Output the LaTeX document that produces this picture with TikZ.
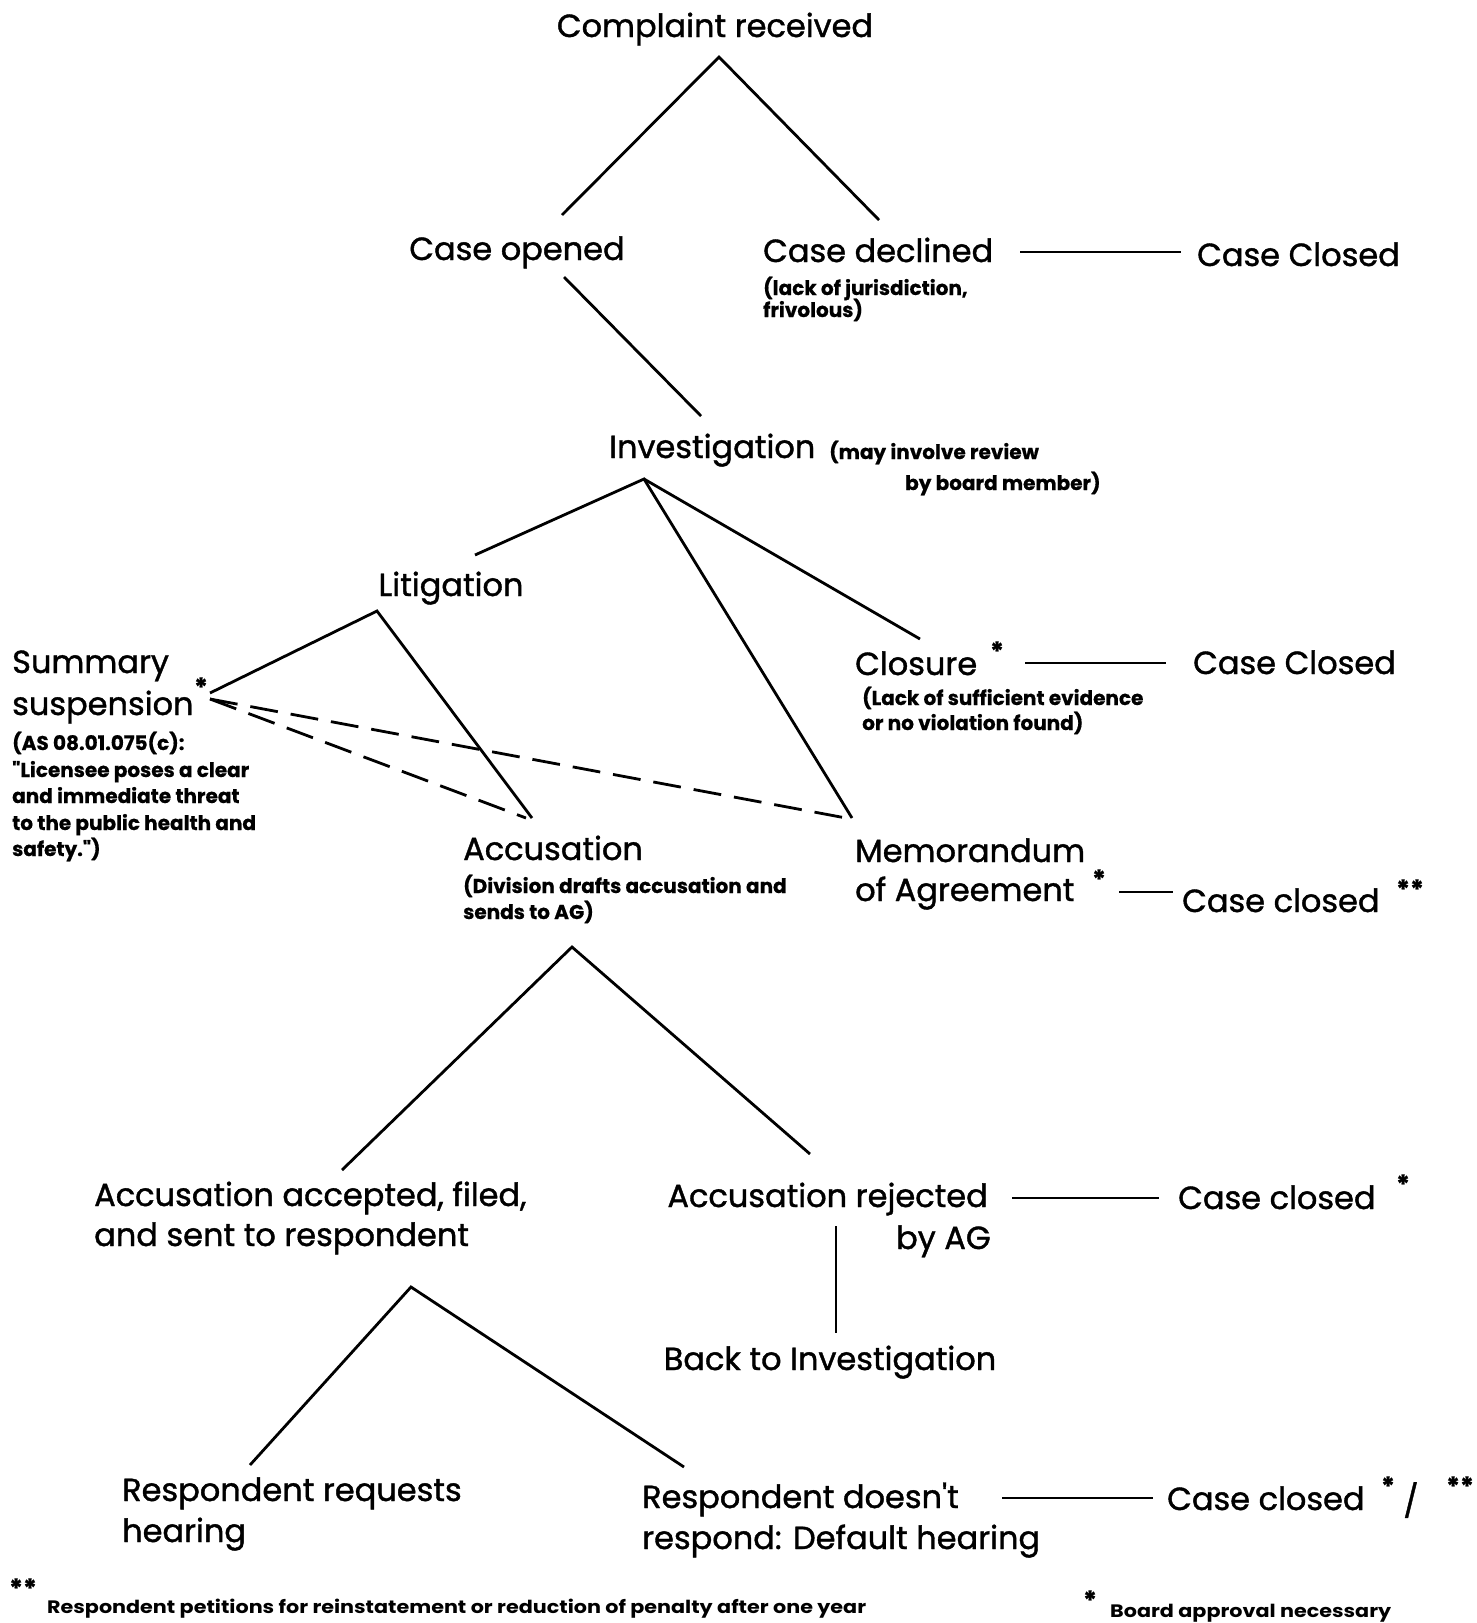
\documentclass[tikz,border=0pt]{standalone}
\usepackage{fontspec}
\setmainfont{Poppins}
\newfontfamily\heavyf{Poppins}[FakeBold=1.2]
\newfontfamily\smallf{Poppins Bold}[FakeBold=0.6]
\newfontfamily\notef{Poppins Bold}[FakeStretch=1.15]
\begin{document}
\begin{tikzpicture}[x=1pt,y=-1pt,
  big/.style={font=\heavyf\fontsize{32}{38}\selectfont, inner sep=0pt, anchor=base west},
  small/.style={font=\smallf\fontsize{20}{24}\selectfont, inner sep=0pt, anchor=base west},
  tiny/.style={font=\notef\fontsize{18}{21}\selectfont, inner sep=0pt, anchor=base west},
  starmark/.style={font=\smallf\fontsize{26}{26}\selectfont, inner sep=0pt},
  conn/.style={line width=2.8pt},
  dconn/.style={line width=2.8pt, dash pattern=on 28pt off 13pt}]
\useasboundingbox (0,0) rectangle (1476,1623);
\fill[white] (0,0) rectangle (1476,1623);

% ---------- texts ----------
\node[big, anchor=base] (cr) at (715,37) {Complaint received};
\node[big, anchor=base] (co) at (517,260) {Case opened};
\node[big] (cd) at (763,262) {Case declined};
\node[small] (cd1) at (763,295) {(lack of jurisdiction,};
\node[small] (cd2) at (763,317) {frivolous)};
\node[big] (cc1) at (1197,266) {Case Closed};

\node[big] (inv) at (609,458) {Investigation};
\node[small] (inv1) at (829,459) {(may involve review};
\node[small] (inv2) at (905,490) {by board member)};

\node[big, anchor=base] (lit) at (451,596) {Litigation};

\node[big] (ss1) at (12,673) {Summary};
\node[big] (ss2) at (12,715) {suspension};
\node[starmark] (ssst) at (201,687) {*};
\node[small] (ssa) at (12,750) {(AS 08.01.075(c):};
\node[small] (ssb) at (12,777) {"Licensee poses a clear};
\node[small] (ssc) at (12,803) {and immediate threat};
\node[small] (ssd) at (12,830) {to the public health and};
\node[small] (sse) at (12,856) {safety.")};

\node[big] (clo) at (855,675) {Closure};
\node[starmark] (clost) at (997,651) {*};
\node[small] (clo1) at (862,705) {(Lack of sufficient evidence};
\node[small] (clo2) at (862,730) {or no violation found)};
\node[big] (cc2) at (1193,674) {Case Closed};

\node[big] (acc) at (463,860) {Accusation};
\node[small] (acc1) at (463,893) {(Division drafts accusation and};
\node[small] (acc2) at (463,919) {sends to AG)};

\node[big] (moa1) at (855,862) {Memorandum};
\node[big] (moa2) at (855,901) {of Agreement};
\node[starmark] (moast) at (1099,879) {*};
\node[big] (cc3) at (1182,912) {Case closed};
\node[starmark] (cc3st) at (1410,889) {**};

\node[big] (aa1) at (94,1206) {Accusation accepted, filed,};
\node[big] (aa2) at (94,1246) {and sent to respondent};

\node[big, anchor=base east] (ar1) at (988,1207) {Accusation rejected};
\node[big, anchor=base east] (ar2) at (991,1249) {by AG};
\node[big] (cc4) at (1178,1209) {Case closed};
\node[starmark] (cc4st) at (1403,1184) {*};

\node[big, anchor=base] (bti) at (830,1370) {Back to Investigation};

\node[big] (rr1) at (122,1501) {Respondent requests};
\node[big] (rr2) at (122,1542) {hearing};

\node[big] (rd1) at (642,1508) {Respondent doesn't};
\node[big] (rd2) at (642,1549) {respond: Default hearing};
\node[big] (cc5) at (1167,1510) {Case closed};
\node[starmark] (cc5a) at (1388,1486) {*};
\node[big, anchor=center] (cc5b) at (1411,1500) {/};
\node[starmark] (cc5c) at (1460,1486) {**};

\node[starmark] (fn1st) at (23,1588) {**};
\node[tiny] (fn1) at (47,1613) {Respondent petitions for reinstatement or reduction of penalty after one year};
\node[starmark] (fn2st) at (1090,1600) {*};
\node[tiny] (fn2) at (1110,1617) {Board approval necessary};

% ---------- connector end points ----------
\coordinate (cr-b) at (719,57);
\coordinate (co-t) at (562,215);
\coordinate (cd-t) at (879,220);
\coordinate (cd-r) at (1020,252);
\coordinate (cc1-l) at (1181,252);
\coordinate (co-b) at (564,277);
\coordinate (inv-t) at (701,416);
\coordinate (inv-b) at (644,479);
\coordinate (lit-t) at (475,555);
\coordinate (moa-t) at (852,818);
\coordinate (clo-t) at (920,639);
\coordinate (lit-b) at (377,611);
\coordinate (ss-r) at (210,693);
\coordinate (acc-t) at (532,818);
\coordinate (ss-d) at (210,699);
\coordinate (acc-td) at (526,818);
\coordinate (moa-td) at (846,818);
\coordinate (clo-r) at (1025,663);
\coordinate (cc2-l) at (1166,663);
\coordinate (moa-r) at (1119,892);
\coordinate (cc3-l) at (1173,892);
\coordinate (acc-b) at (572,947);
\coordinate (aa-t) at (342,1170);
\coordinate (ar-t) at (810,1154);
\coordinate (ar-r) at (1012,1198);
\coordinate (cc4-l) at (1159,1198);
\coordinate (ar-b) at (836,1226);
\coordinate (bti-t) at (836,1333);
\coordinate (aa-b) at (411,1287);
\coordinate (rr-t) at (250,1465);
\coordinate (rd-t) at (684,1467);
\coordinate (rd-r) at (1002,1498);
\coordinate (cc5-l) at (1153,1498);

% ---------- connectors ----------
\draw[conn] (co-t) -- (cr-b) -- (cd-t);
\draw[conn] (cd-r) -- (cc1-l);
\draw[conn] (co-b) -- (inv-t);
\draw[conn] (lit-t) -- (inv-b) -- (moa-t);
\draw[conn] (inv-b) -- (clo-t);
\draw[conn] (ss-r) -- (lit-b) -- (acc-t);
\draw[dconn] (ss-d) -- (acc-td);
\draw[dconn] (ss-d) -- (moa-td);
\draw[conn] (clo-r) -- (cc2-l);
\draw[conn] (moa-r) -- (cc3-l);
\draw[conn] (aa-t) -- (acc-b) -- (ar-t);
\draw[conn] (ar-r) -- (cc4-l);
\draw[conn] (ar-b) -- (bti-t);
\draw[conn] (rr-t) -- (aa-b) -- (rd-t);
\draw[conn] (rd-r) -- (cc5-l);
\end{tikzpicture}
\end{document}
